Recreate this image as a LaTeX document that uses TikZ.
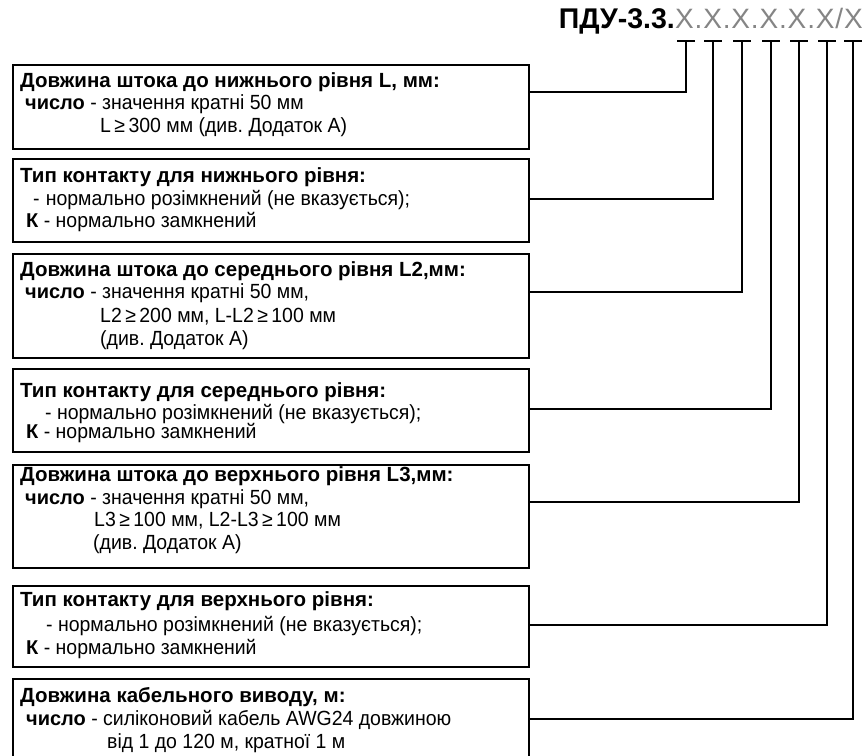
\documentclass[tikz,border=0pt]{standalone}
\usepackage{fontspec}
\setmainfont{Liberation Sans}
\newfontfamily\nar[FakeStretch=0.95]{Liberation Sans}
\newcommand\B[1]{{\normalfont\bfseries\fontsize{20}{23}\selectfont #1}}
\definecolor{codegray}{HTML}{858585}
\frenchspacing
\tikzset{
  box/.style={draw, line width=1.7pt, anchor=north west, minimum width=516pt, inner sep=0pt},
  wire/.style={line width=1.7pt},
  txt/.style={anchor=base west, inner sep=0pt, font=\frenchspacing\nar\fontsize{20.5}{23}\selectfont},
  hd/.style={anchor=base west, inner sep=0pt, font=\bfseries\fontsize{20.5}{23}\selectfont},
}
\begin{document}
\begin{tikzpicture}[x=1pt,y=-1pt]
\useasboundingbox (0,0) rectangle (864,755);
% title
\node[anchor=base east, inner sep=0pt, font=\bfseries\fontsize{28.5}{30}\selectfont] (ttl) at (675,28) {ПДУ-3.3.};
\node[anchor=base west, inner sep=0pt, text=codegray,
      font=\fontsize{28}{30}\selectfont\addfontfeature{LetterSpace=3}] (code) at (675,28) {X.X.X.X.X.X/X};
% ticks
\foreach \i/\x in {1/686,2/713,3/742,4/771,5/799,6/827,7/853}{
  \coordinate (t\i) at (\x,41);
  \draw[wire] ([xshift=-9pt]t\i) -- ([xshift=9pt]t\i);
}
% boxes
\node[box, minimum height=84pt] (b1) at (12,64) {};
\node[box, minimum height=83pt] (b2) at (12,158) {};
\node[box, minimum height=104pt] (b3) at (12,253) {};
\node[box, minimum height=83pt] (b4) at (12,368) {};
\node[box, minimum height=103pt] (b5) at (12,464) {};
\node[box, minimum height=81pt] (b6) at (12,585) {};
\node[box, minimum height=95pt] (b7) at (12,678) {};
% connector ends on box edges
\coordinate (c1) at (b1.east |- 0,92);
\coordinate (c2) at (b2.east |- 0,199);
\coordinate (c3) at (b3.east |- 0,292);
\coordinate (c4) at (b4.east |- 0,409);
\coordinate (c5) at (b5.east |- 0,502);
\coordinate (c6) at (b6.east |- 0,625);
\coordinate (c7) at (b7.east |- 0,719);
\foreach \i in {1,...,7}{
  \draw[wire] (t\i) |- (c\i);
}
% box 1
\node[hd] (h1) at (20,87) {Довжина штока до нижнього рівня L, мм:};
\node[txt] (l1a) at (25,109) {\B{число} - значення кратні 50 мм};
\node[txt] (l1b) at (100,132) {L\,≥\,300 мм (див. Додаток А)};
% box 2
\node[hd] (h2) at (20,182) {Тип контакту для нижнього рівня:};
\node[txt] (l2a) at (33,205) {-\hspace{0.3em}нормально розімкнений (не вказується);};
\node[txt] (l2b) at (26,227) {\B{К} - нормально замкнений};
% box 3
\node[hd] (h3) at (20,276) {Довжина штока до середнього рівня L2,мм:};
\node[txt] (l3a) at (25,298) {\B{число} - значення кратні 50 мм,};
\node[txt] (l3b) at (100,322) {L2\,≥\,200 мм, L-L2\,≥\,100 мм};
\node[txt] (l3c) at (100,345) {(див. Додаток А)};
% box 4
\node[hd] (h4) at (20,397) {Тип контакту для середнього рівня:};
\node[txt] (l4a) at (45,419) {- нормально розімкнений (не вказується);};
\node[txt] (l4b) at (26,438) {\B{К} - нормально замкнений};
% box 5
\node[hd] (h5) at (20,481) {Довжина штока до верхнього рівня L3,мм:};
\node[txt] (l5a) at (25,504) {\B{число} - значення кратні 50 мм,};
\node[txt] (l5b) at (94,526) {L3\,≥\,100 мм, L2-L3\,≥\,100 мм};
\node[txt] (l5c) at (93,549) {(див. Додаток А)};
% box 6
\node[hd] (h6) at (20,606) {Тип контакту для верхнього рівня:};
\node[txt] (l6a) at (46,631) {- нормально розімкнений (не вказується);};
\node[txt] (l6b) at (26,654) {\B{К} - нормально замкнений};
% box 7
\node[hd] (h7) at (20,702) {Довжина кабельного виводу, м:};
\node[txt] (l7a) at (26,725) {\B{число} - силіконовий кабель AWG24 довжиною};
\node[txt] (l7b) at (107,748) {від 1 до 120 м, кратної 1 м};
\end{tikzpicture}
\end{document}
